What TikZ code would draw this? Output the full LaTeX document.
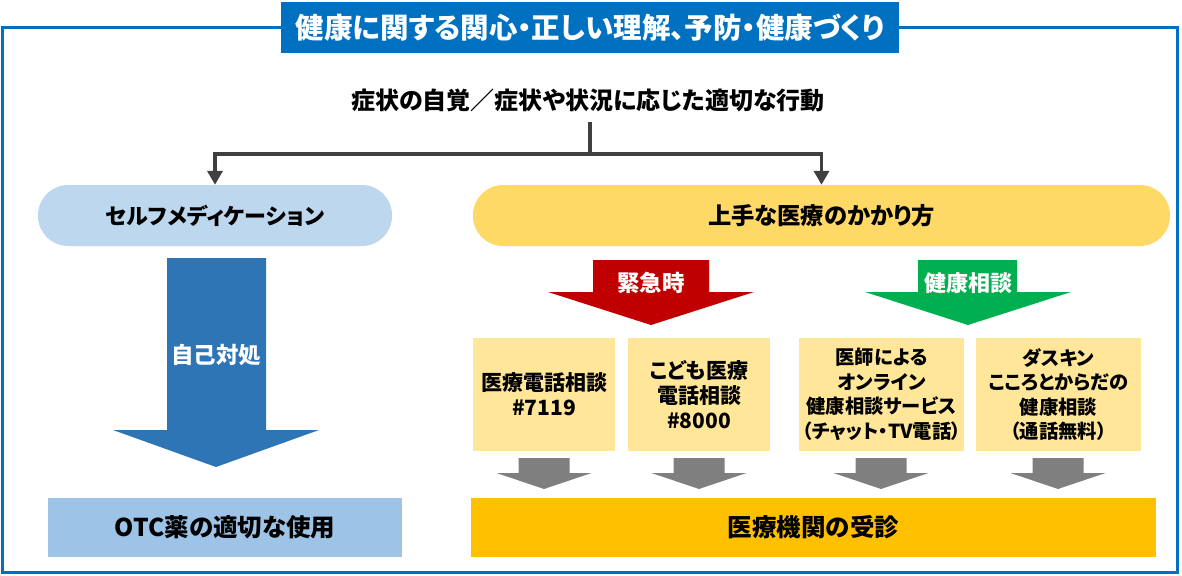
\documentclass[tikz,border=0pt]{standalone}
\usepackage{fontspec}
\setmainfont{Noto Sans CJK JP}[RawFeature=+palt]
\usetikzlibrary{arrows.meta}
\definecolor{frameblue}{HTML}{0070C0}
\definecolor{pillblue}{HTML}{BDD7EE}
\definecolor{pillyellow}{HTML}{FFD966}
\definecolor{arrblue}{HTML}{2E75B6}
\definecolor{otcblue}{HTML}{9DC3E6}
\definecolor{arrred}{HTML}{C00000}
\definecolor{arrgreen}{HTML}{00B050}
\definecolor{boxyellow}{HTML}{FFE699}
\definecolor{arrgray}{HTML}{7F7F7F}
\definecolor{boxorange}{HTML}{FFC000}
\definecolor{conngray}{HTML}{404040}
\newcommand{\fsz}[2]{\fontsize{#1}{#2}\selectfont}
\begin{document}
\begin{tikzpicture}[x=1pt,y=-1pt,
  every node/.style={inner sep=0pt, align=center},
  pill/.style={rounded corners=30pt, minimum height=61pt},
  flatbox/.style={minimum height=59pt},
  smallbox/.style={fill=boxyellow, minimum height=113pt},
  conn/.style={draw=conngray, line width=3.5pt, -{Triangle[width=15pt,length=14pt]}},
  plainconn/.style={draw=conngray, line width=3.5pt},
  arrtext/.style={text=white}]
\useasboundingbox (0,0) rectangle (1182,575);
% frame and title
\draw[frameblue, line width=3pt] (2.5,28) rectangle (1177.5,572.5);
\node[fill=frameblue, text=white, minimum width=618pt, minimum height=51pt,
  font={\bfseries\fsz{28.5}{32}}] (title) at (590,27.5)
  {健康に関する関心・正しい理解、予防・健康づくり};
% subtitle
\node[minimum height=44pt, font={\bfseries\fsz{24}{28}}] (sub) at (588,100)
  {症状の自覚／症状や状況に応じた適切な行動};
% pills
\node[pill, fill=pillblue, minimum width=354pt, font={\bfseries\fsz{22}{26}}] (self) at (215,215.5)
  {セルフメディケーション};
\node[pill, fill=pillyellow, minimum width=697pt, font={\bfseries\fsz{23.3}{27}}] (good) at (821.5,215.5)
  {上手な医療のかかり方};
% connectors
\coordinate (split) at (590,154);
\draw[plainconn] (sub.south -| split) -- (split);
\draw[conn] (split) -| (self.north);
\draw[conn] (split) -| (good.north);
% blue big arrow
\fill[arrblue] (167,258) -- (266,258) -- (266,430) -- (319,430) -- (216,467) -- (113,430) -- (167,430) -- cycle;
\node[arrtext, font={\bfseries\fsz{22.5}{26}}] (selfcare) at (216,355) {自己対処};
% OTC box
\node[flatbox, fill=otcblue, minimum width=354pt, font={\bfseries\fsz{24.5}{28}}] (otc) at (225,527.5)
  {OTC薬の適切な使用};
% red arrow
\fill[arrred] (593,260) -- (709,260) -- (709,292) -- (754,292) -- (651,325) -- (548,292) -- (593,292) -- cycle;
\node[arrtext, font={\bfseries\fsz{22.5}{26}}] (emerg) at (651,283) {緊急時};
% green arrow
\fill[arrgreen] (918,260) -- (1017,260) -- (1017,292) -- (1071,292) -- (968,325) -- (865,292) -- (918,292) -- cycle;
\node[arrtext, font={\bfseries\fsz{22}{26}}] (consult) at (968,283) {健康相談};
% yellow boxes
\node[smallbox, minimum width=142pt, font={\bfseries\fsz{21}{25}}] (b1) at (544,394.5)
  {医療電話相談\\\#7119};
\node[smallbox, minimum width=142pt, font={\bfseries\fsz{21}{25}}] (b2) at (699,394.5)
  {こども医療\\電話相談\\\#8000};
\node[smallbox, minimum width=165pt, font={\bfseries\fsz{19.3}{24.5}}] (b3) at (881.5,394.5)
  {医師による\\オンライン\\健康相談サービス\\（チャット・TV電話）};
\node[smallbox, minimum width=165pt, font={\bfseries\fsz{19.3}{24.5}}] (b4) at (1058.5,394.5)
  {ダスキン\\こころとからだの\\健康相談\\（通話無料）};
% gray arrows
\foreach \c in {544,699,881,1058}{
  \fill[arrgray] ({\c-25.5},458) -- ({\c+25.5},458) -- ({\c+25.5},473) -- ({\c+47.5},473)
    -- (\c,489) -- ({\c-47.5},473) -- ({\c-25.5},473) -- cycle;
}
% bottom box
\node[flatbox, fill=boxorange, minimum width=685pt, font={\bfseries\fsz{24.5}{28}}] (visit) at (813.5,527.5)
  {医療機関の受診};
\end{tikzpicture}
\end{document}
